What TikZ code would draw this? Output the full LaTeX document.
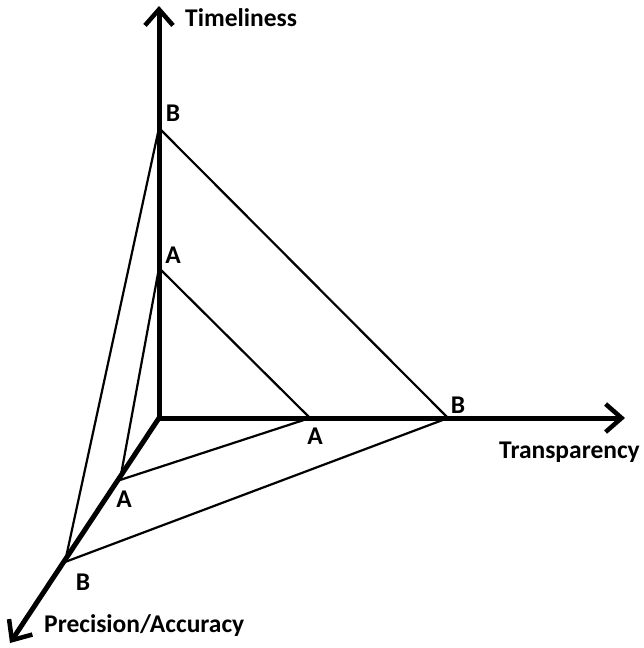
\documentclass[tikz,border=0pt]{standalone}
\usepackage{fontspec}
\setmainfont{Carlito}
\usetikzlibrary{arrows.meta}
\begin{document}
\begin{tikzpicture}[x=1pt,y=-1pt,
  axis/.style={line width=5pt,-{Straight Barb[length=16pt,width=28pt,line width=4.5pt]}},
  edge/.style={line width=2.2pt},
  lbl/.style={font=\fontsize{25.5}{28}\selectfont\bfseries,inner sep=0pt},
  pt/.style={inner sep=0pt,minimum size=0pt}]
\useasboundingbox (0,0) rectangle (643,648);
\coordinate (O) at (159,418);
\coordinate (Tend) at (159,6);
\coordinate (Rend) at (625,418);
\coordinate (Dend) at (10,643);
\coordinate (Bt) at (159,128);
\coordinate (At) at (159,268);
\coordinate (Ar) at (310,418);
\coordinate (Br) at (448,418);
\coordinate (Ad) at (120,480);
\coordinate (Bd) at (65,562);
% triangles
\draw[edge,line join=miter] (Bt) -- (Br) -- (Bd) -- cycle;
\draw[edge,line join=miter] (At) -- (Ar) -- (Ad) -- cycle;
% axes
\draw[axis] (O) -- (Tend);
\draw[axis] (O) -- (Rend);
\draw[axis] (O) -- (Dend);
\draw[line width=5pt,line cap=rect] (O) -- ++(0,-1);
% labels
\node[lbl,anchor=west] (tl) at (185,18) {Timeliness};
\node[lbl,anchor=west] (tr) at (499,452) {Transparency};
\node[lbl,anchor=west] (pa) at (44,626) {Precision/Accuracy};
\node[lbl] (lbt) at (173,113) {B};
\node[lbl] (lat) at (173,255) {A};
\node[lbl] (lar) at (315,436) {A};
\node[lbl] (lbr) at (458,405) {B};
\node[lbl] (lad) at (124,499) {A};
\node[lbl] (lbd) at (83,582) {B};
\end{tikzpicture}
\end{document}
